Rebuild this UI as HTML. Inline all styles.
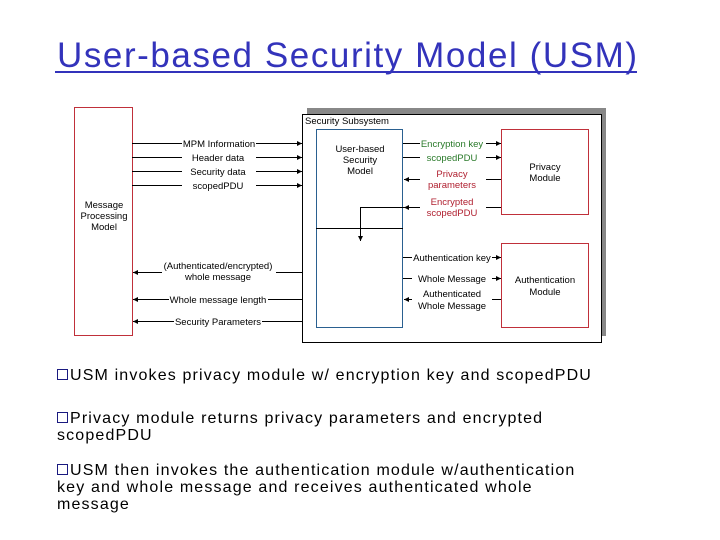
<!DOCTYPE html>
<html><head><meta charset="utf-8"><style>
body{margin:0;background:#fff;width:720px;height:540px;overflow:hidden;}
svg{position:absolute;left:0;top:0}
.t{font-family:"Liberation Sans",sans-serif;font-size:9.5px;fill:#000}
.b{position:absolute;left:57px;font-family:"Liberation Sans",sans-serif;font-size:16px;color:#000;line-height:17px;letter-spacing:1.15px;white-space:nowrap}
.b span{display:inline-block;width:9px;height:9px;border:1px solid #1a1a80;margin-right:2px;vertical-align:0px}
</style></head><body>
<svg width="720" height="540" xmlns="http://www.w3.org/2000/svg">
<defs><marker id="a" viewBox="0 0 6 6" refX="6" refY="3" markerWidth="5" markerHeight="5" orient="auto"><path d="M0,0L6,3L0,6z" fill="#000"/></marker></defs>
<text x="57" y="67" font-family="Liberation Sans,sans-serif" font-size="35" fill="#3333bb" textLength="580" lengthAdjust="spacing">User-based Security Model (USM)</text>
<line x1="55" y1="72" x2="637" y2="72" stroke="#3333bb" stroke-width="2"/>
<rect x="307" y="108" width="299" height="228" fill="#888"/>
<rect x="302.5" y="114.5" width="299" height="228" fill="#fff" stroke="#000"/>
<text class="t" x="305" y="124">Security Subsystem</text>
<rect x="74.5" y="107.5" width="58" height="228" fill="#fff" stroke="#c0303a"/>
<text class="t" text-anchor="middle" x="104" y="208">Message</text>
<text class="t" text-anchor="middle" x="104" y="219">Processing</text>
<text class="t" text-anchor="middle" x="104" y="230">Model</text>
<rect x="316.5" y="129.5" width="86" height="198" fill="none" stroke="#2a6090"/>
<text class="t" text-anchor="middle" x="360" y="152">User-based</text>
<text class="t" text-anchor="middle" x="360" y="163">Security</text>
<text class="t" text-anchor="middle" x="360" y="174">Model</text>
<rect x="501.5" y="129.5" width="87" height="85" fill="none" stroke="#c0303a"/>
<text class="t" text-anchor="middle" x="545" y="170">Privacy</text>
<text class="t" text-anchor="middle" x="545" y="181">Module</text>
<rect x="501.5" y="243.5" width="87" height="84" fill="none" stroke="#c0303a"/>
<text class="t" text-anchor="middle" x="545" y="283">Authentication</text>
<text class="t" text-anchor="middle" x="545" y="295">Module</text>
<g stroke="#000" fill="none">
<line x1="132" y1="143.5" x2="302" y2="143.5" marker-end="url(#a)"/>
<line x1="132" y1="157.5" x2="302" y2="157.5" marker-end="url(#a)"/>
<line x1="132" y1="171.5" x2="302" y2="171.5" marker-end="url(#a)"/>
<line x1="132" y1="185.5" x2="302" y2="185.5" marker-end="url(#a)"/>
<line x1="302" y1="272.5" x2="133" y2="272.5" marker-end="url(#a)"/>
<line x1="302" y1="299.5" x2="133" y2="299.5" marker-end="url(#a)"/>
<line x1="302" y1="321.5" x2="133" y2="321.5" marker-end="url(#a)"/>
<line x1="403" y1="143.5" x2="501" y2="143.5" marker-end="url(#a)"/>
<line x1="403" y1="157.5" x2="501" y2="157.5" marker-end="url(#a)"/>
<line x1="501" y1="179.5" x2="404" y2="179.5" marker-end="url(#a)"/>
<line x1="501" y1="207.5" x2="404" y2="207.5" marker-end="url(#a)"/>
<polyline points="404,207.5 360.5,207.5 360.5,241" marker-end="url(#a)"/>
<line x1="316" y1="228.5" x2="403" y2="228.5"/>
<line x1="403" y1="257.5" x2="501" y2="257.5" marker-end="url(#a)"/>
<line x1="403" y1="278.5" x2="501" y2="278.5" marker-end="url(#a)"/>
<line x1="501" y1="299.5" x2="404" y2="299.5" marker-end="url(#a)"/>
</g>
<g class="t" text-anchor="middle">
<rect x="182" y="137" width="74" height="54" fill="#fff"/>
<text x="219" y="147">MPM Information</text>
<text x="218" y="161">Header data</text>
<text x="218" y="175">Security data</text>
<text x="218" y="189">scopedPDU</text>
<rect x="162" y="260" width="114" height="20" fill="#fff"/>
<text x="218" y="269">(Authenticated/encrypted)</text>
<text x="218" y="280">whole message</text>
<rect x="169" y="292" width="99" height="12" fill="#fff"/>
<text x="218" y="303">Whole message length</text>
<rect x="174" y="315" width="88" height="12" fill="#fff"/>
<text x="218" y="325">Security Parameters</text>
<rect x="420" y="135" width="66" height="80" fill="#fff"/>
<text x="452" y="147" fill="#2a7a2a">Encryption key</text>
<text x="452" y="161" fill="#2a7a2a">scopedPDU</text>
<text x="452" y="177" fill="#b02030">Privacy</text>
<text x="452" y="188" fill="#b02030">parameters</text>
<text x="452" y="205" fill="#b02030">Encrypted</text>
<text x="452" y="216" fill="#b02030">scopedPDU</text>
<rect x="412" y="250" width="80" height="60" fill="#fff"/>
<text x="452" y="261">Authentication key</text>
<text x="452" y="282">Whole Message</text>
<text x="452" y="297">Authenticated</text>
<text x="452" y="309">Whole Message</text>
</g>
</svg>
<div class="b" style="top:367px"><span></span>USM invokes privacy module w/ encryption key and scopedPDU</div>
<div class="b" style="top:410px"><span></span>Privacy module returns privacy parameters and encrypted<br>scopedPDU</div>
<div class="b" style="top:462px"><span></span>USM then invokes the authentication module w/authentication<br>key and whole message and receives authenticated whole<br>message</div>
</body></html>
